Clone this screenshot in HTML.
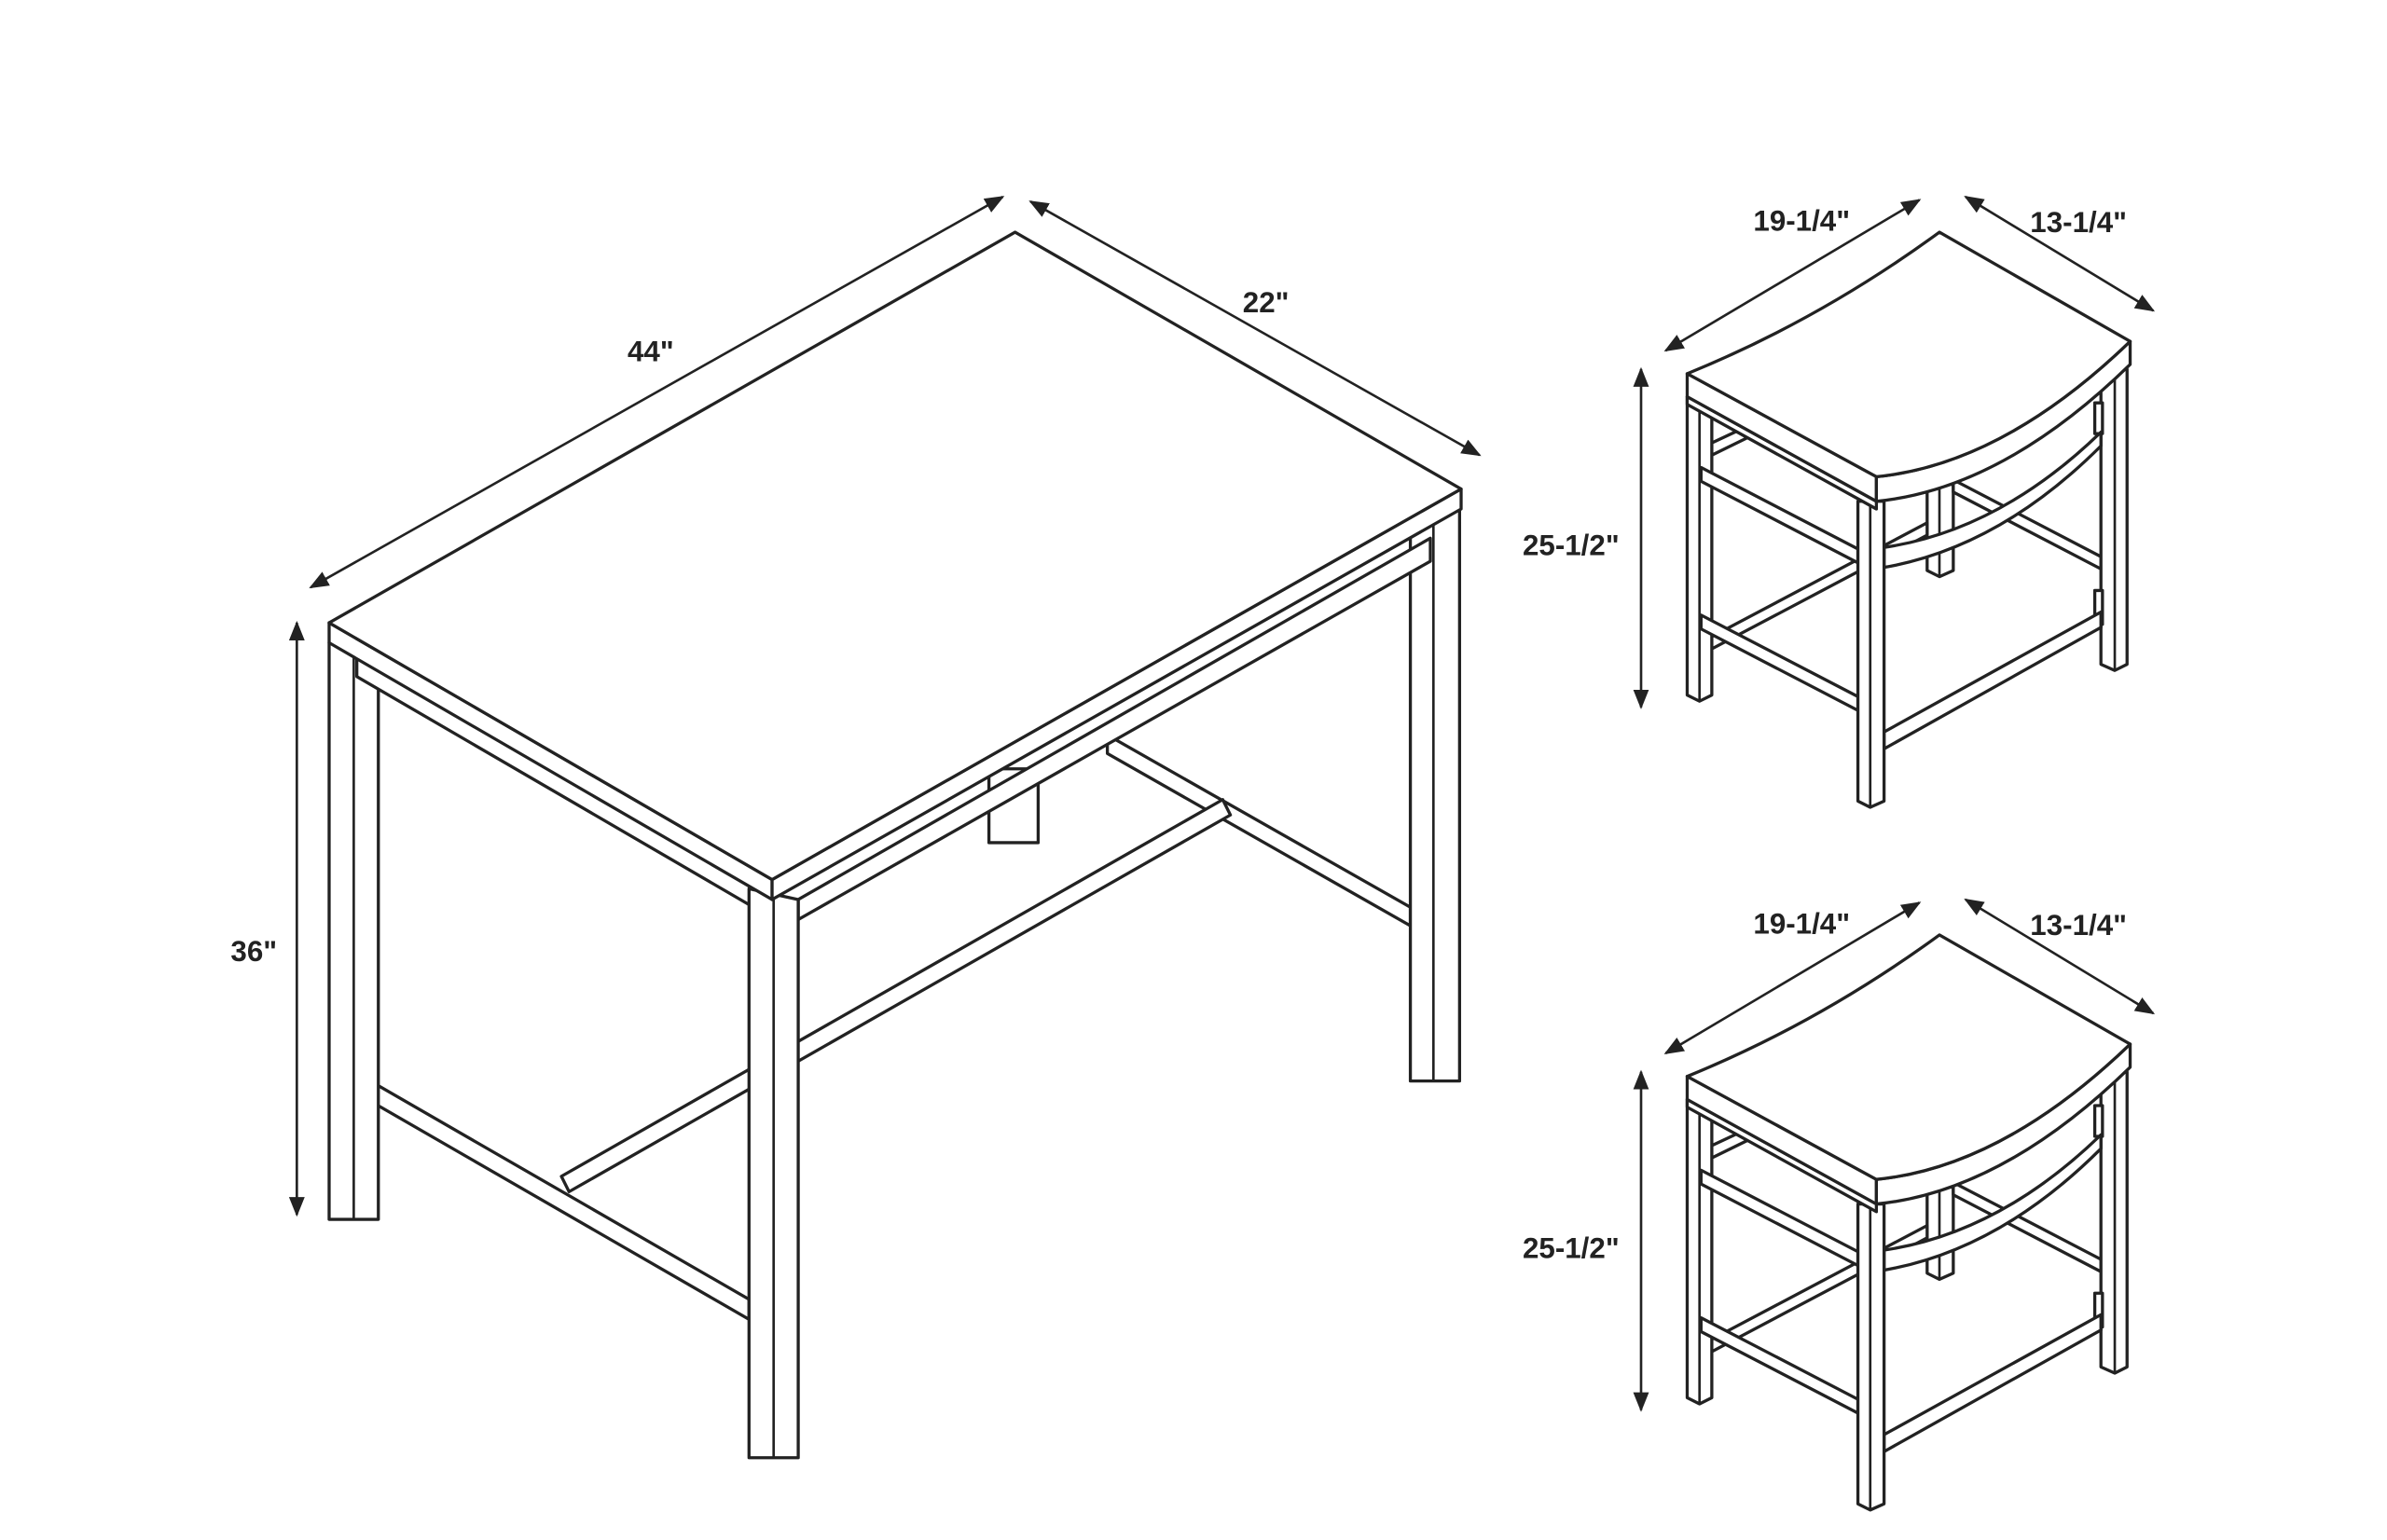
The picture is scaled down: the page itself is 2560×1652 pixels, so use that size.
<!DOCTYPE html>
<html><head><meta charset="utf-8"><style>
html,body{margin:0;padding:0;background:#fff;width:2560px;height:1652px;overflow:hidden}
svg{display:block}
text{font-family:"Liberation Sans",sans-serif;font-weight:bold;font-size:19px;fill:#222}
.l{fill:#fff;stroke:#222;stroke-width:2;stroke-linejoin:round}
.d{stroke:#222;stroke-width:1.6;fill:none}
</style></head><body>
<svg width="2560" height="1652" viewBox="0 0 1552 1001.5" xmlns="http://www.w3.org/2000/svg">
<defs>
<marker id="a" viewBox="0 0 10 10" refX="9" refY="5" markerWidth="8" markerHeight="8" orient="auto-start-reverse"><path d="M0,1 L10,5 L0,9 z" fill="#222"/></marker>
</defs>
<!-- TABLE -->
<g>
<polygon class="l" points="643,500 675,500 675,548 643,548"/>
<polygon class="l" points="720,478 917,590 917,602 720,490"/>
<polygon class="l" points="365,765 795,520 800,530 370,775"/>
<polygon class="l" points="917,340 949,330 949,703 917,703"/>
<line class="d" x1="932" y1="340" x2="932" y2="703"/>
<polygon class="l" points="232,698 487,845 487,858 232,711"/>
<polygon class="l" points="214,418 246,430 246,793 214,793"/>
<line class="d" x1="230" y1="425" x2="230" y2="793"/>
<polygon class="l" points="232,425 502,585 502,597 232,440"/>
<polygon class="l" points="519,585 930,350 930,365 519,598"/>
<polygon class="l" points="487,578 519,585 519,948 487,948"/>
<line class="d" x1="503" y1="585" x2="503" y2="948"/>
<polygon class="l" points="214,405 502,572 502,585 214,418"/>
<polygon class="l" points="502,572 950,318 950,331 502,585"/>
<polygon class="l" points="214,405 660,151 950,318 502,572"/>
</g>
<line class="d" x1="202" y1="382" x2="652" y2="128" marker-start="url(#a)" marker-end="url(#a)"/>
<line class="d" x1="670" y1="131" x2="962" y2="296" marker-start="url(#a)" marker-end="url(#a)"/>
<line class="d" x1="193" y1="405" x2="193" y2="790" marker-start="url(#a)" marker-end="url(#a)"/>
<text x="408" y="235">44"</text>
<text x="808" y="203">22"</text>
<text x="150" y="625">36"</text>

<!-- STOOL -->
<g id="st">
<polygon class="l" points="1253,315 1270,315 1270,371 1261,375 1253,371"/>
<line class="d" x1="1261" y1="315" x2="1261" y2="375"/>
<polygon class="l" points="1270,312 1366,362 1366,370 1270,320"/>
<polygon class="l" points="1113,414 1253,340 1253,348 1113,422"/>
<polygon class="l" points="1113,288 1160,266 1160,273 1113,296"/>
<polygon class="l" points="1366,244 1383,240 1383,432 1375,436 1366,432"/>
<line class="d" x1="1375" y1="242" x2="1375" y2="436"/>
<rect class="l" x="1362" y="262" width="5" height="20"/>
<rect class="l" x="1362" y="384" width="5" height="22"/>
<polygon class="l" points="1225,476 1366,398 1366,408 1225,487"/>
<path class="l" d="M1225,356 Q1300,345 1366,281 L1366,290 Q1300,356 1225,369 Z"/>
<polygon class="l" points="1097,258 1113,262 1113,452 1105,456 1097,452"/>
<line class="d" x1="1105" y1="260" x2="1105" y2="456"/>
<polygon class="l" points="1106,304 1208,357 1208,366 1106,313"/>
<polygon class="l" points="1106,400 1208,453 1208,462 1106,409"/>
<polygon class="l" points="1208,326 1225,326 1225,521 1216,525 1208,521"/>
<line class="d" x1="1216" y1="328" x2="1216" y2="525"/>
<polygon class="l" points="1097,258 1220,326 1220,331 1097,263"/>
<polygon class="l" points="1097,243 1220,310 1220,326 1097,258"/>
<path class="l" d="M1220,310 Q1302,302 1385,222 L1385,237 Q1302,318 1220,326 Z"/>
<path class="l" d="M1097,243 Q1183,208 1261,151 L1385,222 Q1302,302 1220,310 Z"/>
<line class="d" x1="1083" y1="228" x2="1248" y2="130" marker-start="url(#a)" marker-end="url(#a)"/>
<line class="d" x1="1278" y1="128" x2="1400" y2="202" marker-start="url(#a)" marker-end="url(#a)"/>
<line class="d" x1="1067" y1="240" x2="1067" y2="460" marker-start="url(#a)" marker-end="url(#a)"/>
<text x="1140" y="150">19-1/4"</text>
<text x="1320" y="151">13-1/4"</text>
<text x="990" y="361">25-1/2"</text>
</g>
<use href="#st" transform="translate(0,457)"/>
</svg>
</body></html>
